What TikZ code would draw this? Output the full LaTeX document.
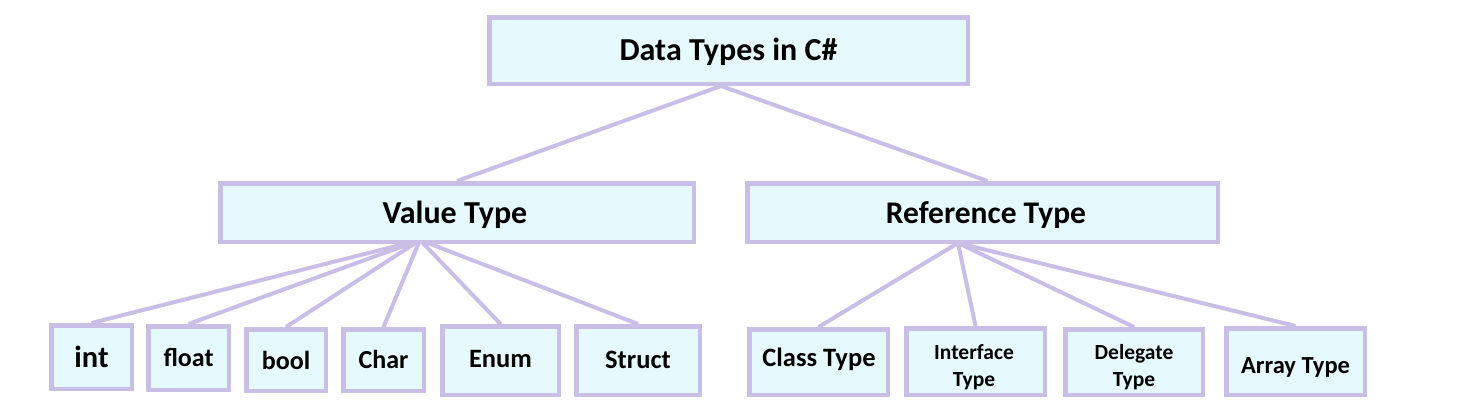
\documentclass[tikz,border=0pt]{standalone}
\usepackage{fontspec}
\setmainfont{Carlito}
\usetikzlibrary{backgrounds}
\definecolor{boxline}{RGB}{200,190,230}
\definecolor{boxfill}{RGB}{230,250,254}
\tikzset{
  tbox/.style={draw=boxline, fill=boxfill, line width=4.5pt, inner sep=0pt,
    font=\bfseries, text=black, align=center},
  conn/.style={draw=boxline, line width=4pt},
}
\begin{document}
\begin{tikzpicture}[x=1pt,y=-1pt]
\useasboundingbox (0,0) rectangle (1462,413);
% level 0
\node[tbox, minimum width=478.5pt, minimum height=66.5pt] (root) at (728.5,50.5) {};
\node[font=\bfseries\fontsize{32}{38}\selectfont] (rootT) at (728.5,52) {Data Types in C\#};
% level 1
\node[tbox, minimum width=473.5pt, minimum height=58.5pt] (val) at (457,212.5) {};
\node[font=\bfseries\fontsize{32}{38}\selectfont] (valT) at (455,215) {Value Type};
\node[tbox, minimum width=470.5pt, minimum height=58.5pt] (ref) at (982.5,212.5) {};
\node[font=\bfseries\fontsize{31.5}{38}\selectfont] (refT) at (986,215) {Reference Type};
% value leaves
\node[tbox, minimum width=80.5pt, minimum height=63.5pt, font=\bfseries\fontsize{30.5}{34}\selectfont] (int) at (91.5,357) {int};
\node[tbox, minimum width=80.5pt, minimum height=63.5pt, font=\bfseries\fontsize{26}{31}\selectfont] (float) at (188.5,358) {\raisebox{2pt}{float}};
\node[tbox, minimum width=79.5pt, minimum height=61.5pt, font=\bfseries\fontsize{26}{31}\selectfont] (bool) at (286,360) {bool};
\node[tbox, minimum width=80.5pt, minimum height=61.5pt, font=\bfseries\fontsize{26}{31}\selectfont] (char) at (383.5,360) {\raisebox{1pt}{Char}};
\node[tbox, minimum width=116.5pt, minimum height=68.5pt, font=\bfseries\fontsize{26.5}{31}\selectfont] (enum) at (500.5,360.5) {\raisebox{3pt}{Enum}};
\node[tbox, minimum width=123.5pt, minimum height=68.5pt, font=\bfseries\fontsize{26.5}{31}\selectfont] (struct) at (638,360.5) {\raisebox{2pt}{Struct}};
% reference leaves
\node[tbox, minimum width=138.5pt, minimum height=65.5pt] (class) at (818.5,362) {};
\node[font=\bfseries\fontsize{26.5}{31}\selectfont, anchor=base, inner sep=0pt] (classT) at (819,366) {Class Type};
\node[tbox, minimum width=138.5pt, minimum height=66.5pt] (iface) at (975.5,361.5) {};
\node[font=\bfseries\fontsize{21.5}{27}\selectfont, align=center] (ifaceT) at (974,367) {Interface\\Type};
\node[tbox, minimum width=137.5pt, minimum height=65.5pt] (deleg) at (1134,362) {};
\node[font=\bfseries\fontsize{21.5}{27}\selectfont, align=center] (delegT) at (1134,367) {Delegate\\Type};
\node[tbox, minimum width=138.5pt, minimum height=66.5pt] (arr) at (1295.5,361.5) {};
\node[font=\bfseries\fontsize{24.5}{29}\selectfont, anchor=base, inner sep=0pt] (arrT) at (1295.5,373) {Array Type};
% hub points
\coordinate (rootHub) at (721,86);
\coordinate (valHub) at (420,240);
\coordinate (refHub) at (958,243);
\begin{scope}[on background layer]
\draw[conn] (rootHub) -- (val.north);
\draw[conn] (rootHub) -- ([xshift=5pt]ref.north);
\foreach \c in {int,float,bool,char,enum,struct}
  \draw[conn] (valHub) -- (\c.north);
\foreach \c in {class,iface,deleg,arr}
  \draw[conn] (refHub) -- (\c.north);
\end{scope}
\end{tikzpicture}
\end{document}
